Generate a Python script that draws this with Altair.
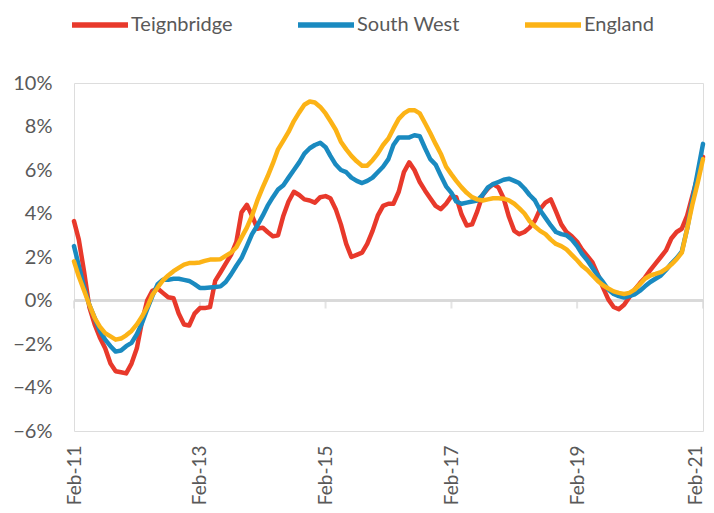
import altair as alt
import pandas as pd

months = pd.date_range("2011-02-01", "2021-02-01", freq="MS")

teignbridge = [
    3.65, 2.8, 1.3, -0.3, -1.1, -1.7, -2.2, -2.9, -3.25, -3.3,
    -3.35, -2.9, -2.2, -1.0, 0.0, 0.45, 0.55, 0.35, 0.15, 0.1,
    -0.6, -1.1, -1.15, -0.6, -0.35, -0.35, -0.3, 0.9, 1.3, 1.7,
    2.1, 2.7, 4.05, 4.4, 3.9, 3.3, 3.35, 3.15, 2.95, 3.0,
    3.9, 4.55, 5.0, 4.85, 4.65, 4.6, 4.5, 4.75, 4.8, 4.7,
    4.2, 3.5, 2.6, 2.0, 2.1, 2.2, 2.6, 3.2, 3.9, 4.35,
    4.45, 4.45, 5.0, 5.9, 6.35, 6.0, 5.45, 5.05, 4.7, 4.35,
    4.2, 4.45, 4.8, 4.75, 3.95, 3.45, 3.5, 4.1, 4.85, 5.15,
    5.35, 5.2, 4.7, 3.85, 3.2, 3.05, 3.15, 3.35, 3.67, 4.2,
    4.5, 4.65, 4.1, 3.5, 3.15, 2.95, 2.7, 2.35, 2.05, 1.75,
    1.2, 0.6, 0.05, -0.3, -0.4, -0.2, 0.15, 0.5, 0.8, 1.05,
    1.4, 1.7, 2.0, 2.3, 2.85, 3.15, 3.3, 3.9, 4.8, 5.7,
    6.6,
]

south_west = [
    2.5, 1.6, 0.6, -0.2, -0.8, -1.4, -1.8, -2.1, -2.35, -2.3,
    -2.1, -1.95, -1.55, -1.05, -0.4, 0.2, 0.75, 0.95, 0.95, 1.0,
    1.0, 0.95, 0.9, 0.75, 0.58, 0.58, 0.6, 0.62, 0.65, 0.85,
    1.2, 1.6, 1.95, 2.5, 3.05, 3.45, 3.9, 4.35, 4.75, 5.1,
    5.3, 5.65, 6.0, 6.35, 6.75, 7.0, 7.15, 7.25, 7.05, 6.65,
    6.25, 6.0, 5.9, 5.65, 5.5, 5.4, 5.5, 5.65, 5.9, 6.15,
    6.5, 7.15, 7.5, 7.5, 7.5, 7.6, 7.55, 7.0, 6.5, 6.25,
    5.75, 5.25, 4.95, 4.55, 4.45, 4.5, 4.55, 4.6, 4.85, 5.2,
    5.35, 5.45, 5.55, 5.6, 5.5, 5.4, 5.15, 4.85, 4.6, 4.15,
    3.8, 3.45, 3.15, 3.05, 3.0, 2.8, 2.5, 2.15, 1.85, 1.5,
    1.15, 0.85, 0.5, 0.3, 0.2, 0.14, 0.2, 0.28, 0.45, 0.65,
    0.85, 1.0, 1.15, 1.4, 1.7, 1.95, 2.25, 3.3, 4.6, 5.9,
    7.2,
]

england = [
    1.8, 1.1, 0.45, -0.2, -0.8, -1.2, -1.5, -1.65, -1.8, -1.75,
    -1.6, -1.4, -1.1, -0.75, -0.3, 0.25, 0.6, 0.92, 1.15, 1.35,
    1.5, 1.65, 1.72, 1.72, 1.75, 1.82, 1.88, 1.88, 1.9, 2.05,
    2.2, 2.45, 2.9, 3.35, 3.9, 4.6, 5.2, 5.7, 6.3, 6.95,
    7.35, 7.75, 8.25, 8.65, 9.0, 9.15, 9.1, 8.9, 8.6, 8.25,
    7.85, 7.3, 6.95, 6.65, 6.4, 6.2, 6.2, 6.45, 6.75, 7.15,
    7.45, 7.9, 8.35, 8.6, 8.75, 8.75, 8.6, 8.15, 7.7, 7.2,
    6.75, 6.15, 5.8, 5.5, 5.2, 4.95, 4.75, 4.65, 4.6, 4.65,
    4.7, 4.7, 4.68, 4.6, 4.45, 4.25, 4.0, 3.65, 3.4, 3.2,
    3.05, 2.8, 2.6, 2.5, 2.35, 2.1, 1.85, 1.6, 1.4, 1.15,
    0.9, 0.7, 0.55, 0.42, 0.35, 0.3, 0.35, 0.5, 0.75, 1.0,
    1.15, 1.22, 1.3, 1.45, 1.65, 1.9, 2.2, 3.3, 4.4, 5.4,
    6.5,
]

series_names = ["Teignbridge", "South West", "England"]
series_colors = ["#E8392B", "#1A8AC0", "#FCB316"]
tick_years = [2011, 2013, 2015, 2017, 2019, 2021]

rows = []
for name, vals in zip(series_names, [teignbridge, south_west, england]):
    for d, v in zip(months, vals):
        rows.append({"date": d, "series": name, "value": v / 100.0})
df = pd.DataFrame(rows)

ticks_df = pd.DataFrame({"date": pd.to_datetime([f"{y}-02-01" for y in tick_years])})
tick_values = [alt.DateTime(year=y, month=2, date=1) for y in tick_years]

FONT = "Lato"
GRAY = "#595959"
AXIS_GRAY = "#D9D9D9"
H = 348

x_scale = alt.Scale(domain=[alt.DateTime(year=2011, month=2, date=1),
                            alt.DateTime(year=2021, month=2, date=1)])
y_scale = alt.Scale(domain=[-0.06, 0.10], nice=False, zero=False)

lines = (
    alt.Chart(df)
    .mark_line(strokeWidth=4.5, strokeJoin="round", strokeCap="round")
    .encode(
        x=alt.X(
            "date:T",
            scale=x_scale,
            axis=alt.Axis(
                values=tick_values,
                format="%b-%y",
                title=None,
                labelAngle=270,
                labelAlign="right",
                labelBaseline="middle",
                labelPadding=14,
                labelOffset={"condition": {"test": "year(datum.value) >= 2021", "value": -8},
                             "value": 0},
                ticks=False,
                domain=False,
                grid=False,
                labelFontSize=19,
                labelColor=GRAY,
                labelFont=FONT,
                labelOverlap=False,
                labelFlush=False,
            ),
        ),
        y=alt.Y(
            "value:Q",
            scale=y_scale,
            axis=alt.Axis(
                values=[-0.06, -0.04, -0.02, 0, 0.02, 0.04, 0.06, 0.08, 0.10],
                format=".0%",
                title=None,
                domain=False,
                ticks=False,
                grid=False,
                labelPadding=22,
                labelFontSize=20,
                labelColor=GRAY,
                labelFont=FONT,
            ),
        ),
        color=alt.Color(
            "series:N",
            scale=alt.Scale(domain=series_names, range=series_colors),
            sort=series_names,
            legend=alt.Legend(
                title=None,
                orient="none",
                direction="horizontal",
                columns=3,
                legendX=-5,
                legendY=-89,
                symbolType="stroke",
                symbolSize=3136,
                symbolStrokeWidth=5.5,
                labelFontSize=20,
                labelColor=GRAY,
                labelFont=FONT,
                labelOffset=0,
                columnPadding=54,
                padding=0,
            ),
        ),
        order=alt.Order("date:T"),
    )
)

zero_line = (
    alt.Chart(ticks_df)
    .mark_rule(color=AXIS_GRAY, strokeWidth=2)
    .encode(y=alt.datum(0, type="quantitative"))
)

tick_marks = (
    alt.Chart(ticks_df)
    .mark_tick(orient="vertical", size=8, thickness=2, color=AXIS_GRAY, yOffset=4)
    .encode(
        x=alt.X("date:T", scale=x_scale),
        y=alt.datum(0, type="quantitative"),
    )
)

chart = (
    alt.layer(zero_line, tick_marks, lines)
    .properties(width=629, height=H, autosize=alt.AutoSizeParams(type="none"),
                padding={"left": 66, "top": 75, "right": 3, "bottom": 82})
    .configure_view(stroke=None)
    .configure(background="white")
)

chart.save("out.html", embed_options={"renderer": "svg", "actions": False})
